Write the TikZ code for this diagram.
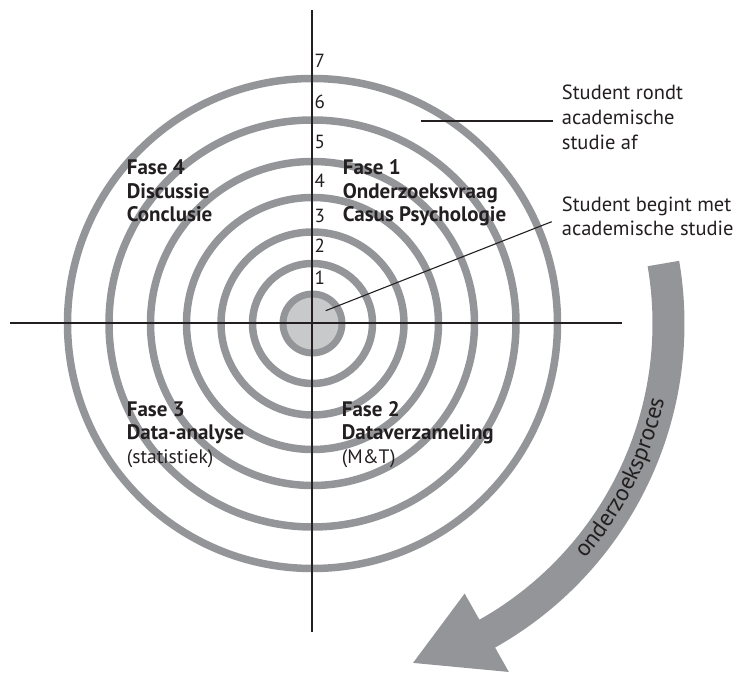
\documentclass[tikz,border=0pt]{standalone}
\usepackage{fontspec}
\setmainfont{PT Sans}
\usetikzlibrary{decorations.text}
\definecolor{ringgray}{HTML}{939598}
\definecolor{diskgray}{HTML}{C8C9CB}
\definecolor{ink}{HTML}{231F20}
\begin{document}
\begin{tikzpicture}[x=1pt,y=1pt,
  ring/.style={draw=ringgray, line width=7.5pt},
  axisline/.style={draw=ink, line width=2pt},
  leader/.style={draw=ink, line width=1.1pt},
  digit/.style={font=\fontsize{19}{19}\selectfont, text=ink, inner sep=0pt, anchor=base west},
  phase/.style={font=\bfseries\fontsize{21}{21}\selectfont, text=ink, inner sep=0pt, anchor=base west},
  phasesub/.style={font=\fontsize{19.5}{19.5}\selectfont, text=ink, inner sep=0pt, anchor=base west},
  note/.style={font=\fontsize{20.5}{20.5}\selectfont, text=ink, inner sep=0pt, anchor=base west}]
\useasboundingbox (-312.5,-350.5) rectangle (426.5,323.5);
% process arrow
\fill[ringgray] (9.7:372) arc[start angle=9.7, end angle=-60.6, radius=372]
  -- (-60.6:400) -- (-73.5:354) -- (-60.6:310) -- (-60.6:340)
  arc[start angle=-60.6, end angle=9.7, radius=340] -- cycle;
\path[decorate, decoration={text along path, text align=center,
  text={|\fontsize{23.5}{23.5}\selectfont\color{ink}|onderzoeksproces}}]
  (-52:360) arc[start angle=-52, end angle=-1, radius=360];
% core
\node[circle, fill=ringgray, minimum size=66pt, inner sep=0pt] (core) at (0,0) {};
\node[circle, fill=diskgray, minimum size=52pt, inner sep=0pt] (corein) at (0,0) {};
% rings
\foreach \r in {60,91.5,126,162,203.5,245} \draw[ring] (0,0) circle[radius=\r];
% axes
\coordinate (ytop) at (0,313.5);
\coordinate (ybot) at (0,-308.5);
\coordinate (xleft) at (-302.5,0);
\coordinate (xright) at (309.5,0);
\draw[axisline] (ytop) -- (ybot);
\draw[axisline] (xleft) -- (xright);
% digits
\node[digit] (d1) at (2,38.5) {1};
\node[digit] (d2) at (2,70.5) {2};
\node[digit] (d3) at (2,100.8) {3};
\node[digit] (d4) at (2,135.5) {4};
\node[digit] (d5) at (2,174.5) {5};
\node[digit] (d6) at (2,214.5) {6};
\node[digit] (d7) at (2,255.5) {7};
% phases
\node[phase] (f4a) at (-185.8,148.5) {Fase 4};
\node[phase] (f4b) at (-185.8,125) {Discussie};
\node[phase] (f4c) at (-185.8,101.5) {Conclusie};
\node[phase] (f1a) at (30.2,148.5) {Fase 1};
\node[phase] (f1b) at (30.2,125) {Onderzoeksvraag};
\node[phase] (f1c) at (30.2,101.5) {Casus Psychologie};
\node[phase] (f3a) at (-185.8,-93.2) {Fase 3};
\node[phase] (f3b) at (-185.8,-116.5) {Data-analyse};
\node[phasesub] (f3c) at (-185.8,-140) {(statistiek)};
\node[phase] (f2a) at (29.2,-93.2) {Fase 2};
\node[phase] (f2b) at (29.2,-116.5) {Dataverzameling};
\node[phasesub] (f2c) at (29.2,-140) {(M\&T)};
% notes
\node[note] (n1a) at (249.2,223.5) {Student rondt};
\node[note] (n1b) at (249.2,198.5) {academische};
\node[note] (n1c) at (249.2,173.5) {studie af};
\node[note] (n2a) at (249.2,111.5) {Student begint met};
\node[note] (n2b) at (249.2,87.5) {academische studie};
% leaders
\coordinate (l1s) at (108.5,202.5);
\coordinate (l1e) at (240.5,202.5);
\coordinate (l2s) at (13.2,12.8);
\coordinate (l2e) at (239.2,101.8);
\draw[leader] (l1s) -- (l1e);
\draw[leader] (l2s) -- (l2e);
\end{tikzpicture}
\end{document}
